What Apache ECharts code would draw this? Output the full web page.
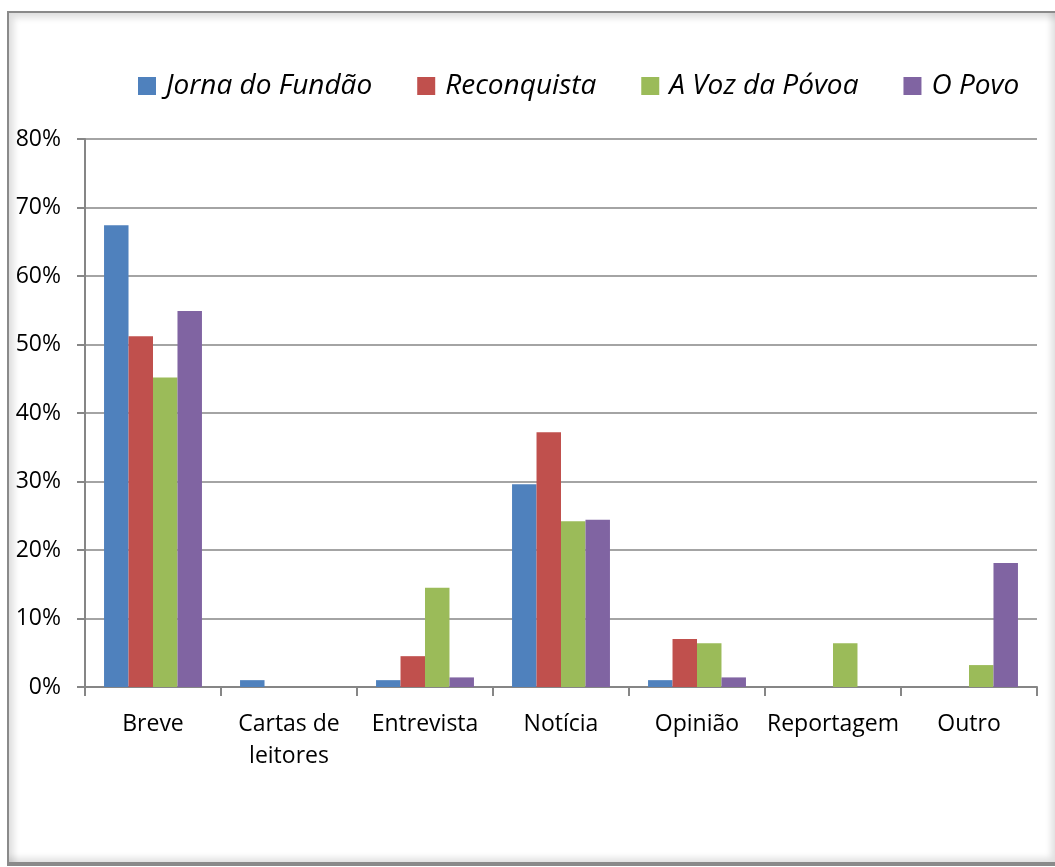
<!DOCTYPE html>
<html><head><meta charset="utf-8">
<script src="https://cdn.jsdelivr.net/npm/echarts@6/dist/echarts.min.js"></script>
<style>
html,body{margin:0;padding:0;background:#fff;}
#frame{position:absolute;left:7px;top:11px;width:1046px;height:849px;border-left:2px solid #8a8a8a;border-top:2px solid #8a8a8a;border-bottom:4px solid #8a8a8a;box-shadow:inset 5px 5px 6px rgba(0,0,0,0.12), inset -4px -4px 6px rgba(0,0,0,0.12);}
#chart{position:absolute;left:0;top:0;width:1055px;height:867px;}
</style></head>
<body>
<div id="frame"></div>
<div id="chart"></div>
<script>
const categories = ['Breve', 'Cartas de\nleitores', 'Entrevista', 'Notícia', 'Opinião', 'Reportagem', 'Outro'];
const seriesNames = ['Jorna do Fundão', 'Reconquista', 'A Voz da Póvoa', 'O Povo'];
const jornaDoFundao = [67.4, 1.0, 1.0, 29.6, 1.0, 0, 0];
const reconquista = [51.2, 0, 4.5, 37.2, 7.0, 0, 0];
const aVozDaPovoa = [45.2, 0, 14.5, 24.2, 6.4, 6.4, 3.2];
const oPovo = [54.9, 0, 1.4, 24.4, 1.4, 0, 18.1];
const yTicks = [0, 10, 20, 30, 40, 50, 60, 70, 80];

const colors = ['#4F81BD', '#C0504D', '#9BBB59', '#8064A2'];
const font = 'Open Sans';
const chart = echarts.init(document.getElementById('chart'));
const data = [jornaDoFundao, reconquista, aVozDaPovoa, oPovo];
chart.setOption({
  backgroundColor: 'transparent',
  color: colors,
  legend: {
    top: 72, left: 138, padding: 0,
    itemWidth: 18, itemHeight: 18, itemGap: 45,
    icon: 'rect',
    textStyle: {fontFamily: font, fontStyle: 'italic', fontSize: 28, color: '#000', padding: [0,0,0,5]},
    data: seriesNames
  },
  grid: {left: 85, right: 18, top: 139, bottom: 180},
  xAxis: {
    type: 'category', data: categories,
    axisLine: {lineStyle: {color: '#868686', width: 2}},
    axisTick: {show: true, length: 9, lineStyle: {color: '#868686', width: 2}},
    axisLabel: {fontFamily: font, fontSize: 23, color: '#000', margin: 21, lineHeight: 32, interval: 0}
  },
  yAxis: {
    type: 'value', min: yTicks[0], max: yTicks[yTicks.length-1], interval: 10,
    axisLine: {show: true, lineStyle: {color: '#868686', width: 2}},
    axisTick: {show: true, length: 8, lineStyle: {color: '#868686', width: 2}},
    splitLine: {lineStyle: {color: '#868686', width: 1.5}},
    axisLabel: {fontFamily: font, fontSize: 23, color: '#000', margin: 24, formatter: v => v + '%'}
  },
  series: seriesNames.map((n, i) => ({
    name: n, type: 'bar', data: data[i],
    barGap: '0%', barCategoryGap: '28%',
    itemStyle: {color: colors[i]}
  }))
});
</script>
</body></html>
